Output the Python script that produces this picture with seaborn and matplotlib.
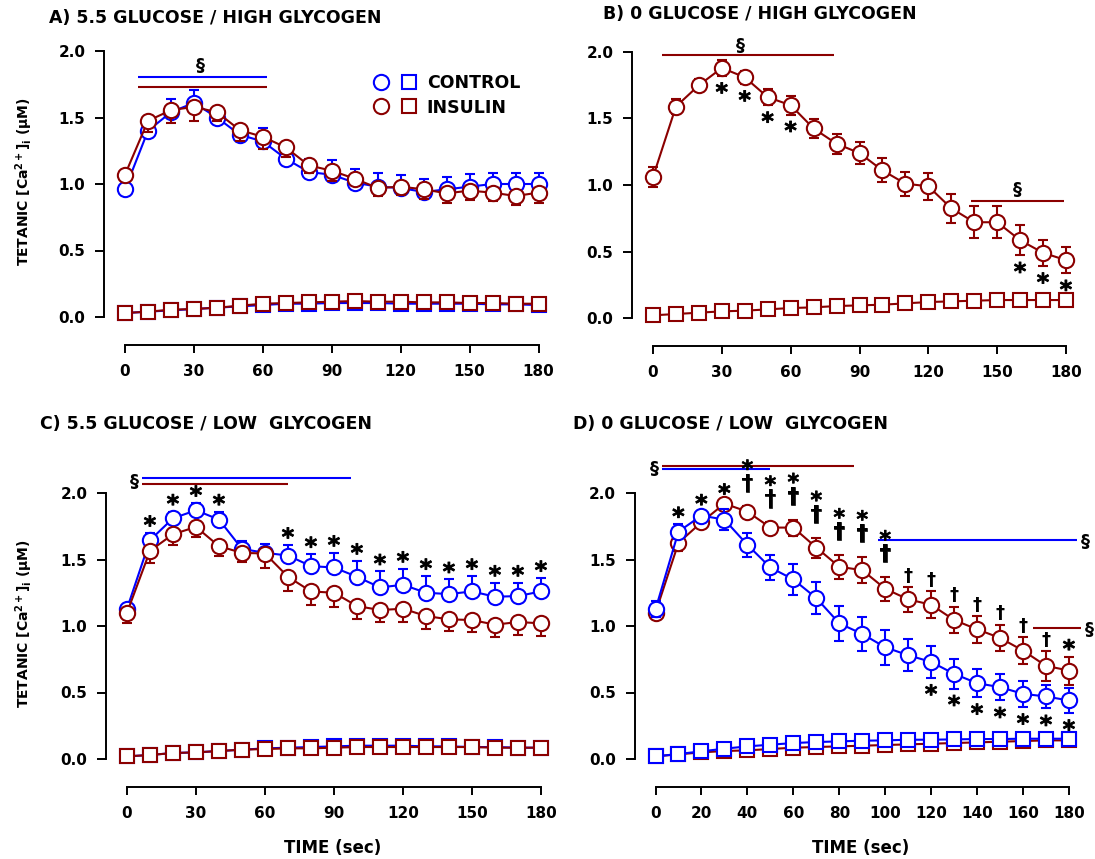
import numpy as np
import pandas as pd
import matplotlib
matplotlib.use("Agg")
import matplotlib.pyplot as plt
import matplotlib.patheffects as pe
import seaborn as sns
from matplotlib.lines import Line2D
from matplotlib.legend_handler import HandlerTuple
from matplotlib.textpath import TextPath
from matplotlib.font_manager import FontProperties

# ---------------------------------------------------------------- data
TIME = [0, 10, 20, 30, 40, 50, 60, 70, 80, 90, 100, 110, 120, 130, 140, 150, 160, 170, 180]

# A) 5.5 glucose / high glycogen
A_CTRL = [0.96, 1.40, 1.54, 1.61, 1.50, 1.37, 1.32, 1.19, 1.09, 1.07, 1.01, 0.98, 0.97, 0.94, 0.96, 0.98, 1.00, 1.00, 1.00]
A_CTRL_SEM = [0.02, 0.04, 0.10, 0.095, 0.05, 0.07, 0.10, 0.06, 0.10, 0.11, 0.10, 0.105, 0.10, 0.10, 0.095, 0.095, 0.08, 0.08, 0.085]
A_INS = [1.07, 1.475, 1.555, 1.58, 1.54, 1.405, 1.355, 1.275, 1.14, 1.10, 1.04, 0.97, 0.98, 0.96, 0.93, 0.95, 0.935, 0.91, 0.935]
A_INS_SEM = [0.05, 0.085, 0.095, 0.105, 0.07, 0.085, 0.09, 0.07, 0.06, 0.08, 0.05, 0.06, 0.06, 0.07, 0.07, 0.07, 0.065, 0.07, 0.075]
A_CTRL_REST = [0.03, 0.04, 0.05, 0.06, 0.07, 0.08, 0.09, 0.10, 0.10, 0.105, 0.105, 0.105, 0.10, 0.10, 0.10, 0.10, 0.095, 0.095, 0.09]
A_INS_REST = [0.03, 0.04, 0.055, 0.06, 0.07, 0.085, 0.10, 0.105, 0.11, 0.115, 0.12, 0.115, 0.115, 0.11, 0.11, 0.105, 0.105, 0.10, 0.10]

# B) 0 glucose / high glycogen
B_INS = [1.06, 1.59, 1.75, 1.88, 1.81, 1.66, 1.60, 1.425, 1.31, 1.24, 1.11, 1.01, 0.99, 0.825, 0.72, 0.72, 0.585, 0.49, 0.435]
B_INS_SEM = [0.075, 0.055, 0.045, 0.06, 0.05, 0.06, 0.07, 0.07, 0.075, 0.085, 0.09, 0.09, 0.10, 0.11, 0.12, 0.12, 0.115, 0.10, 0.10]
B_INS_REST = [0.02, 0.03, 0.04, 0.05, 0.055, 0.065, 0.075, 0.08, 0.09, 0.095, 0.10, 0.11, 0.12, 0.125, 0.13, 0.135, 0.135, 0.135, 0.135]

# C) 5.5 glucose / low glycogen
C_CTRL = [1.13, 1.645, 1.81, 1.87, 1.80, 1.58, 1.55, 1.53, 1.45, 1.44, 1.37, 1.29, 1.31, 1.25, 1.24, 1.26, 1.22, 1.225, 1.26]
C_CTRL_SEM = [0.03, 0.055, 0.05, 0.055, 0.06, 0.06, 0.07, 0.08, 0.09, 0.11, 0.12, 0.12, 0.12, 0.125, 0.11, 0.115, 0.105, 0.10, 0.10]
C_INS = [1.10, 1.565, 1.69, 1.745, 1.60, 1.55, 1.545, 1.37, 1.26, 1.25, 1.15, 1.12, 1.13, 1.075, 1.05, 1.045, 1.01, 1.03, 1.02]
C_INS_SEM = [0.075, 0.095, 0.08, 0.075, 0.07, 0.07, 0.11, 0.11, 0.10, 0.11, 0.10, 0.09, 0.10, 0.10, 0.09, 0.09, 0.09, 0.095, 0.095]
C_CTRL_REST = [0.02, 0.03, 0.045, 0.05, 0.06, 0.07, 0.08, 0.085, 0.09, 0.095, 0.10, 0.10, 0.10, 0.095, 0.095, 0.09, 0.09, 0.085, 0.085]
C_INS_REST = [0.02, 0.03, 0.045, 0.05, 0.06, 0.07, 0.075, 0.08, 0.08, 0.085, 0.09, 0.09, 0.09, 0.09, 0.09, 0.09, 0.085, 0.085, 0.085]

# D) 0 glucose / low glycogen
D_CTRL = [1.125, 1.71, 1.83, 1.80, 1.61, 1.44, 1.35, 1.21, 1.02, 0.94, 0.84, 0.78, 0.73, 0.64, 0.57, 0.54, 0.49, 0.47, 0.44]
D_CTRL_SEM = [0.06, 0.055, 0.03, 0.08, 0.09, 0.095, 0.115, 0.12, 0.13, 0.13, 0.13, 0.12, 0.12, 0.11, 0.105, 0.10, 0.10, 0.09, 0.095]
D_INS = [1.10, 1.625, 1.78, 1.92, 1.86, 1.74, 1.74, 1.59, 1.445, 1.42, 1.28, 1.20, 1.16, 1.045, 0.975, 0.91, 0.815, 0.70, 0.665]
D_INS_SEM = [0.03, 0.06, 0.03, 0.02, 0.04, 0.04, 0.06, 0.075, 0.09, 0.10, 0.09, 0.095, 0.10, 0.10, 0.10, 0.10, 0.10, 0.11, 0.105]
D_CTRL_REST = [0.02, 0.0375, 0.0575, 0.0775, 0.095, 0.1075, 0.12, 0.1275, 0.1325, 0.1375, 0.14, 0.145, 0.145, 0.1475, 0.15, 0.15, 0.1525, 0.1525, 0.1525]
D_INS_REST = [0.02, 0.035, 0.05, 0.06, 0.065, 0.075, 0.085, 0.09, 0.095, 0.10, 0.105, 0.11, 0.115, 0.12, 0.125, 0.13, 0.135, 0.14, 0.14]

# significance marks (time points)
B_STAR_BELOW = [30, 40, 50, 60, 160, 170, 180]
C_STAR_ABOVE = [10, 20, 30, 40, 70, 80, 90, 100, 110, 120, 130, 140, 150, 160, 170, 180]
D_STAR_ABOVE = [10, 20, 30, 40, 50, 60, 70, 80, 90, 100, 180]
D_DAGGER = [40, 50, 60, 70, 80, 90, 100, 110, 120, 130, 140, 150, 160, 170]
D_STAR_BELOW = [120, 130, 140, 150, 160, 170, 180]

# § brackets: (start, end, level, series)
A_SECTIONS = [(5.5, 62, 1.805, "ctrl"), (5.5, 62, 1.73, "ins")]
B_SECTIONS = [(4, 79, 1.975, "ins"), (138.4, 179, 0.88, "ins")]
C_SECTIONS = [(6.4, 97.6, 2.1125, "ctrl"), (6.4, 70, 2.065, "ins")]
D_SECTIONS = [(2.75, 86.3, 2.2025, "ins"), (2.75, 49.8, 2.1775, "ctrl"),
              (96.7, 183.4, 1.65, "ctrl"), (164.3, 185.3, 0.9825, "ins")]

TITLES = ["A) 5.5 GLUCOSE / HIGH GLYCOGEN", "B) 0 GLUCOSE / HIGH GLYCOGEN",
          "C) 5.5 GLUCOSE / LOW  GLYCOGEN", "D) 0 GLUCOSE / LOW  GLYCOGEN"]
LEGEND_LABELS = ["CONTROL", "INSULIN"]
YLABEL = "TETANIC [Ca$^{2+}$]$_{i}$ (µM)"
XLABEL = "TIME (sec)"

# ---------------------------------------------------------------- style
BLUE = "#0000FF"
RED = "#8B0000"
COLORS = {"ctrl": BLUE, "ins": RED}

sns.set_theme(style="ticks")
plt.rcParams.update({
    "font.family": ["DejaVu Sans"],
    "font.weight": "bold",
    "axes.labelweight": "bold",
    "mathtext.fontset": "dejavusans",
    "mathtext.default": "bf",
    "text.color": "black",
    "axes.labelcolor": "black",
    "axes.edgecolor": "black",
    "axes.linewidth": 1.4,
    "xtick.color": "black",
    "ytick.color": "black",
    "xtick.labelcolor": "black",
    "ytick.labelcolor": "black",
    "xtick.major.width": 1.4,
    "ytick.major.width": 1.4,
    "xtick.major.size": 6,
    "ytick.major.size": 6.5,
    "figure.facecolor": "white",
    "axes.facecolor": "white",
})

W, H = 1095, 859
fig = plt.figure(figsize=(W / 100, H / 100), dpi=100)

BOLD = FontProperties(family="DejaVu Sans", weight="bold")


def ink_center(s):
    ext = TextPath((0, 0), s, size=1, prop=BOLD).get_extents()
    return (ext.y0 + ext.y1) / 2


def make_axes(L, x0, x180, y0, y2, B, T, R):
    sx = (x180 - x0) / 180.0
    sy = (y0 - y2) / 2.0
    ax = fig.add_axes([L / W, 1 - B / H, (R - L) / W, (B - T) / H])
    ax.set_xlim((L - x0) / sx, (R - x0) / sx)
    ax.set_ylim(-(B - y0) / sy, (y0 - T) / sy)
    return ax


def style_axes(ax, xticks):
    for side in ("top", "right"):
        ax.spines[side].set_visible(False)
    ax.spines["left"].set_bounds(0, 2)
    ax.spines["bottom"].set_bounds(0, 180)
    ax.set_yticks([0, 0.5, 1.0, 1.5, 2.0])
    ax.set_yticklabels([f"{v:.1f}" for v in [0, 0.5, 1.0, 1.5, 2.0]])
    ax.set_xticks(xticks)
    ax.set_xticklabels([str(v) for v in xticks])
    ax.tick_params(axis="y", labelsize=11, pad=7)
    ax.tick_params(axis="x", labelsize=11, pad=8)
    for lab in ax.get_xticklabels() + ax.get_yticklabels():
        lab.set_fontweight("bold")
    ax.set_xlabel("")
    ax.set_ylabel("")


def draw_series(ax, mean, lo, hi, rest, color, z):
    ax.errorbar(TIME, mean, yerr=[lo, hi], fmt="none", ecolor=color,
                elinewidth=1.5, capsize=3.8, capthick=1.5, zorder=z)
    sns.lineplot(x=TIME, y=rest, ax=ax, color=color, marker="s", markersize=10.5,
                 markerfacecolor="white", markeredgecolor=color, markeredgewidth=1.5,
                 linewidth=1.5, errorbar=None, zorder=z + 0.2)
    sns.lineplot(x=TIME, y=mean, ax=ax, color=color, marker="o", markersize=11,
                 markerfacecolor="white", markeredgecolor=color, markeredgewidth=1.5,
                 linewidth=1.5, errorbar=None, zorder=z + 0.4)


def symbol(ax, s, x, y, fs, ha="center", stroke=0.0, linespacing=1.2):
    # anchor on the first line's baseline so the glyph's ink is centred on y
    t = ax.annotate(s, xy=(x, y), xytext=(0, -ink_center(s.split("\n")[0]) * fs),
                    textcoords="offset points", ha=ha, va="baseline", fontsize=fs,
                    fontweight="bold", color="black", annotation_clip=False, zorder=10,
                    linespacing=linespacing, multialignment="center")
    if stroke:
        t.set_path_effects([pe.withStroke(linewidth=stroke, foreground="black")])
    return t


def sections(ax, spans):
    for x0, x1, lvl, key in spans:
        ax.plot([x0, x1], [lvl, lvl], color=COLORS[key], lw=1.5, clip_on=False,
                solid_capstyle="butt", zorder=5)


STAR_FS, DAGGER_FS, SEC_FS = 17, 13, 13
STAR_STROKE = 0.6
idx = {t: i for i, t in enumerate(TIME)}
zeros = [0] * len(TIME)

# ---------------------------------------------------------------- panel A
axA = make_axes(104, 125, 538.5, 317, 51, 345, 25, 560)
draw_series(axA, A_CTRL, zeros, A_CTRL_SEM, A_CTRL_REST, BLUE, 2)
draw_series(axA, A_INS, A_INS_SEM, zeros, A_INS_REST, RED, 3)
style_axes(axA, [0, 30, 60, 90, 120, 150, 180])
sections(axA, A_SECTIONS)
symbol(axA, "§", 33, 1.89, SEC_FS)

handles = []
for key in ("ctrl", "ins"):
    c = COLORS[key]
    h_circ = Line2D([], [], ls="none", marker="o", markersize=11, markerfacecolor="white",
                    markeredgecolor=c, markeredgewidth=1.5)
    h_sq = Line2D([], [], ls="none", marker="s", markersize=10.5, markerfacecolor="white",
                  markeredgecolor=c, markeredgewidth=1.5)
    handles.append((h_circ, h_sq))
axA.legend(handles, LEGEND_LABELS, handler_map={tuple: HandlerTuple(ndivide=None, pad=0.76)},
           loc="center left", bbox_to_anchor=(373 / W, 1 - 95.5 / H), bbox_transform=fig.transFigure,
           frameon=False, borderpad=0, borderaxespad=0, handlelength=2.5, handletextpad=0.6,
           labelspacing=0.35, labelcolor="black",
           prop=FontProperties(family="DejaVu Sans", weight="bold", size=12.5))

# ---------------------------------------------------------------- panel B
axB = make_axes(632, 653, 1066, 318, 52, 346, 25, 1090)
draw_series(axB, B_INS, B_INS_SEM, B_INS_SEM, B_INS_REST, RED, 3)
style_axes(axB, [0, 30, 60, 90, 120, 150, 180])
sections(axB, B_SECTIONS)
symbol(axB, "§", 38, 2.05, SEC_FS)
symbol(axB, "§", 158.6, 0.97, SEC_FS)
for t in B_STAR_BELOW:
    i = idx[t]
    symbol(axB, "*", t, B_INS[i] - B_INS_SEM[i] - 0.09, STAR_FS, stroke=STAR_STROKE)

# ---------------------------------------------------------------- panel C
axC = make_axes(106, 127, 541, 759, 493, 787, 465, 560)
draw_series(axC, C_CTRL, zeros, C_CTRL_SEM, C_CTRL_REST, BLUE, 2)
draw_series(axC, C_INS, C_INS_SEM, zeros, C_INS_REST, RED, 3)
style_axes(axC, [0, 30, 60, 90, 120, 150, 180])
sections(axC, C_SECTIONS)
symbol(axC, "§", 5.0, 2.09, SEC_FS, ha="right")
for t in C_STAR_ABOVE:
    i = idx[t]
    symbol(axC, "*", t, C_CTRL[i] + C_CTRL_SEM[i] + 0.09, STAR_FS, stroke=STAR_STROKE)

# ---------------------------------------------------------------- panel D
axD = make_axes(635, 655.5, 1069, 759, 493, 787, 465, 1090)
draw_series(axD, D_INS, D_INS_SEM, D_INS_SEM, D_INS_REST, RED, 2)
draw_series(axD, D_CTRL, D_CTRL_SEM, D_CTRL_SEM, D_CTRL_REST, BLUE, 3)
style_axes(axD, list(range(0, 181, 20)))
sections(axD, D_SECTIONS)
symbol(axD, "§", 1.5, 2.19, SEC_FS, ha="right")
symbol(axD, "§", 185.0, 1.64, SEC_FS, ha="left")
symbol(axD, "§", 187.0, 0.975, SEC_FS, ha="left")
for t in sorted(set(D_STAR_ABOVE) | set(D_DAGGER)):
    i = idx[t]
    base = max(D_CTRL[i] + D_CTRL_SEM[i], D_INS[i] + D_INS_SEM[i])
    if t in D_DAGGER and t in D_STAR_ABOVE:
        # star stacked over dagger in one label
        symbol(axD, "*\n†", t, base + 0.21, 16, linespacing=0.6, stroke=0.45)
    elif t in D_DAGGER:
        symbol(axD, "†", t, base + 0.09, DAGGER_FS)
    else:
        symbol(axD, "*", t, base + 0.09, STAR_FS, stroke=STAR_STROKE)
for t in D_STAR_BELOW:
    i = idx[t]
    symbol(axD, "*", t, D_CTRL[i] - D_CTRL_SEM[i] - 0.09, STAR_FS, stroke=STAR_STROKE)

# ---------------------------------------------------------------- text
for ax in (axA, axC):
    ax.set_ylabel(YLABEL, fontsize=10, fontweight="bold", va="center", ha="center")
axA.yaxis.set_label_coords(24 / W, 1 - 182 / H, transform=fig.transFigure)
axC.yaxis.set_label_coords(24 / W, 1 - 624 / H, transform=fig.transFigure)

for ax, cx in ((axC, 333), (axD, 861)):
    ax.set_xlabel(XLABEL, fontsize=12, fontweight="bold", va="center", ha="center")
    ax.xaxis.set_label_coords(cx / W, 1 - 848 / H, transform=fig.transFigure)

for title, (tx, ty) in zip(TITLES, [(49, 18), (603, 14), (40, 424), (573, 424)]):
    fig.text(tx / W, 1 - ty / H, title, ha="left", va="center", fontsize=12.5,
             fontweight="bold", color="black")

fig.savefig("out.png", dpi=100)
